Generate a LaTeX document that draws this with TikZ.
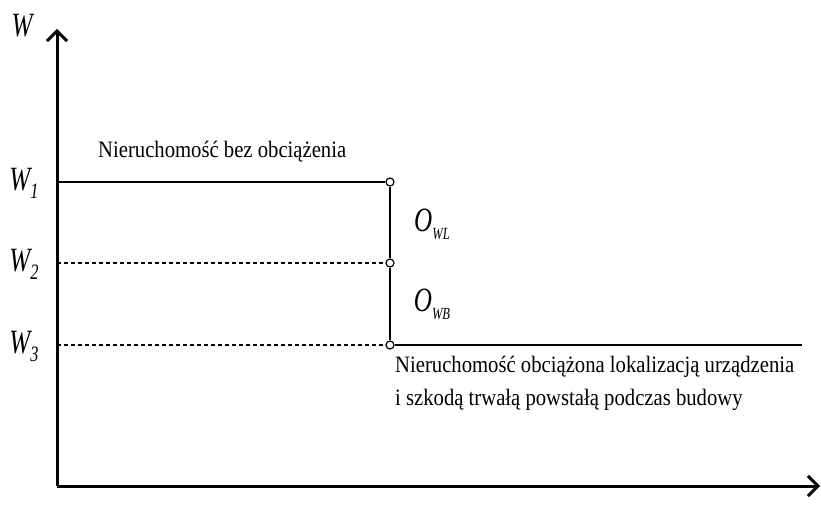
\documentclass[tikz,border=0pt]{standalone}
\usepackage{fontspec}
\setmainfont[FakeStretch=0.88]{Liberation Serif}
\newfontfamily\labfont[FakeStretch=0.74]{Liberation Serif}
\usetikzlibrary{arrows.meta}
\tikzset{
  axis/.style={line width=3pt, -{Straight Barb[length=10pt,width=20pt,line width=3pt]}},
  level/.style={line width=1.4pt},
  guide/.style={line width=1.2pt, dash pattern=on 4pt off 3pt},
  knot/.style={circle, draw, line width=1.2pt, fill=white, inner sep=0pt, minimum size=8pt},
  txt/.style={font=\fontsize{23.5}{33}\selectfont, inner sep=0pt, anchor=base west, align=left},
  lab/.style={font=\labfont\itshape, inner sep=0pt}
}
\newcommand\wlab[1]{\fontsize{34}{34}\selectfont W\raisebox{-8pt}{\fontsize{22}{22}\selectfont #1}}
\newcommand\olab[1]{\fontsize{34}{34}\selectfont O\raisebox{-8pt}{\fontsize{17}{17}\selectfont #1}}
\begin{document}
\begin{tikzpicture}[x=1pt, y=-1pt]
  \useasboundingbox (0,0) rectangle (821,521);
  % axes
  \coordinate (o) at (57,486);
  \coordinate (ytop) at (57,29);
  \coordinate (xend) at (820,486);
  \draw[axis] (o) -- (ytop);
  \draw[axis] (o) -- (xend);
  % levels
  \coordinate (w1) at (57,182);
  \coordinate (w2) at (57,263);
  \coordinate (w3) at (57,345);
  \coordinate (e3) at (802,345);
  \node[knot] (k1) at (390,182) {};
  \node[knot] (k2) at (390,263) {};
  \node[knot] (k3) at (390,345) {};
  \draw[level] (w1) -- (k1.west);
  \draw[guide] (w2) -- (k2.west);
  \draw[guide] (w3) -- (k3.west);
  \draw[level] (k3.east) -- (e3);
  \draw[level] (k1) -- (k2) -- (k3);
  % labels
  \node[lab, font=\labfont\itshape\fontsize{34}{34}\selectfont] (lw) at (22,26) {W};
  \node[lab] (l1) at (24,183) {\wlab{1}};
  \node[lab] (l2) at (24,264) {\wlab{2}};
  \node[lab] (l3) at (24,346) {\wlab{3}};
  \node[lab] (owl) at (432,224) {\olab{WL}};
  \node[lab] (owb) at (432,304) {\olab{WB}};
  \node[txt] (free) at (98,158) {Nieruchomość bez obciążenia};
  \node[txt] (load) at (395,405) {Nieruchomość obciążona lokalizacją urządzenia\\i szkodą trwałą powstałą podczas budowy};
\end{tikzpicture}
\end{document}
